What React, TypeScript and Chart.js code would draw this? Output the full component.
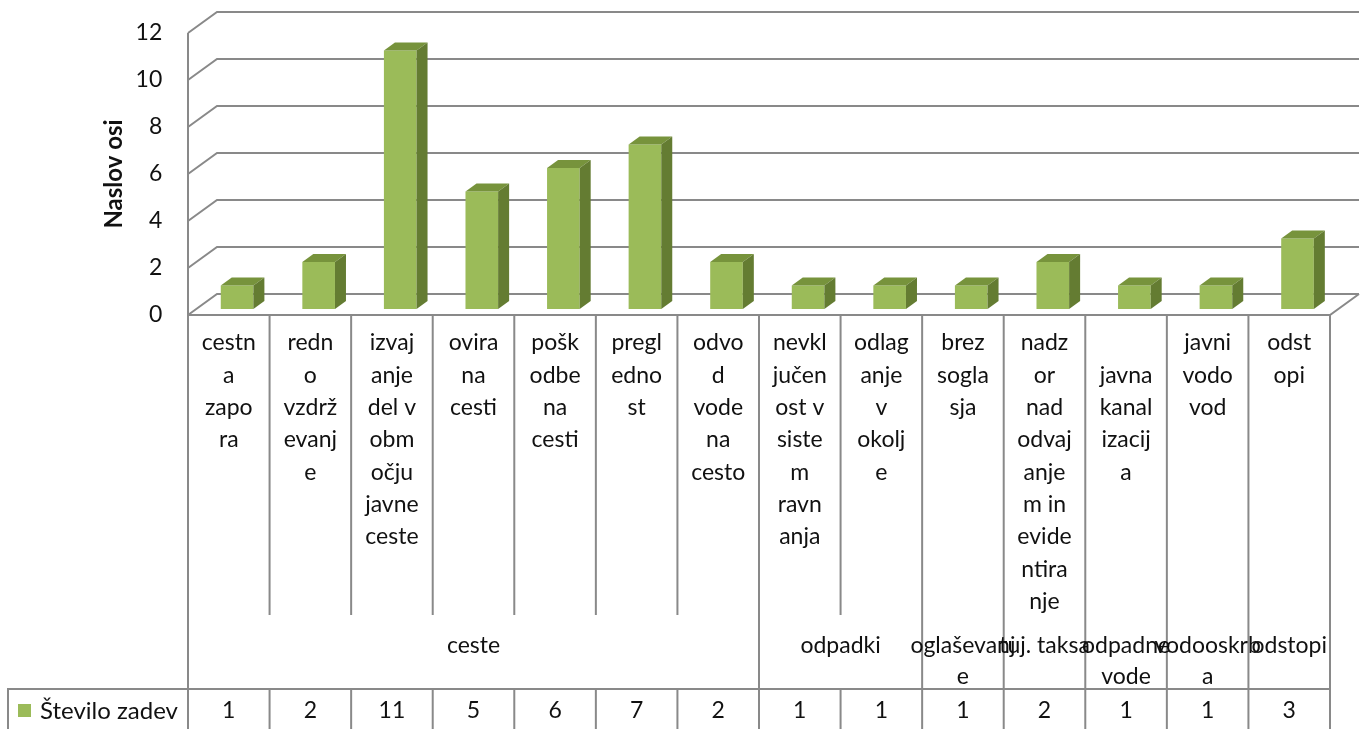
import React, { useEffect, useRef } from 'react';
import { Chart, registerables } from 'chart.js';

Chart.register(...registerables);

// ---------- data ----------
const categoryLines: string[][] = [
  ['cestn', 'a', 'zapo', 'ra'],
  ['redn', 'o', 'vzdrž', 'evanj', 'e'],
  ['izvaj', 'anje', 'del v', 'obm', 'očju', 'javne', 'ceste'],
  ['ovira', 'na', 'cesti'],
  ['pošk', 'odbe', 'na', 'cesti'],
  ['pregl', 'edno', 'st'],
  ['odvo', 'd', 'vode', 'na', 'cesto'],
  ['nevkl', 'jučen', 'ost v', 'siste', 'm', 'ravn', 'anja'],
  ['odlag', 'anje', 'v', 'okolj', 'e'],
  ['brez', 'sogla', 'sja'],
  ['nadz', 'or', 'nad', 'odvaj', 'anje', 'm in', 'evide', 'ntira', 'nje'],
  ['', 'javna', 'kanal', 'izacij', 'a'],
  ['javni', 'vodo', 'vod'],
  ['odst', 'opi'],
];
const groupLines: string[][] = [
  ['ceste'],
  ['odpadki'],
  ['oglaševanj', 'e'],
  ['tuj. taksa'],
  ['odpadne', 'vode'],
  ['vodooskrb', 'a'],
  ['odstopi'],
];
const groupSpans: number[] = [7, 2, 1, 1, 1, 1, 1];
const seriesName = 'Število zadev';
const seriesValues: number[] = [1, 2, 11, 5, 6, 7, 2, 1, 1, 1, 2, 1, 1, 3];
const yTickValues: number[] = [0, 2, 4, 6, 8, 10, 12];
const axisTitle = 'Naslov osi';

// ---------- style ----------
const W = 1366;
const H = 729;
const FONT = 'Lato, "Open Sans", sans-serif';
const TEXT = '#111111';
const GRID = '#898989';
const BAR_FRONT = '#9BBB59';
const BAR_TOP = '#77933C';
const BAR_SIDE = '#647C32';
const DEPTH_X = 29;
const DEPTH_Y = 21;
const SHIFT_X = 8.3;
const SHIFT_Y = 6;
const BAR_DX = 11;
const BAR_DY = 8;

const excel3d = {
  id: 'excel3d',
  beforeDatasetsDraw(chart: any) {
    const { ctx, chartArea: ca, scales } = chart;
    const ys = scales.y;
    const L = ca.left - SHIFT_X;
    const R = ca.right - SHIFT_X;
    const yf = (v: number) => ys.getPixelForValue(v) + SHIFT_Y;
    ctx.save();
    ctx.strokeStyle = GRID;
    ctx.lineWidth = 2;
    ys.ticks.forEach((t: any) => {
      const py = yf(t.value);
      ctx.beginPath();
      ctx.moveTo(L, py);
      ctx.lineTo(L + DEPTH_X, py - DEPTH_Y);
      ctx.lineTo(R + DEPTH_X, py - DEPTH_Y);
      ctx.stroke();
    });
    const y0 = yf(ys.min);
    ctx.beginPath();
    ctx.moveTo(L, yf(ys.max));
    ctx.lineTo(L, y0);
    ctx.lineTo(R, y0);
    ctx.lineTo(R + DEPTH_X, y0 - DEPTH_Y);
    ctx.stroke();
    ctx.restore();
  },
  afterDatasetsDraw(chart: any) {
    const { ctx } = chart;
    const meta = chart.getDatasetMeta(0);
    ctx.save();
    meta.data.forEach((el: any) => {
      const { x, y, base, width } = el.getProps(['x', 'y', 'base', 'width'], true);
      const l = x - width / 2;
      const r = x + width / 2;
      ctx.fillStyle = BAR_TOP;
      ctx.beginPath();
      ctx.moveTo(l, y);
      ctx.lineTo(l + BAR_DX, y - BAR_DY);
      ctx.lineTo(r + BAR_DX, y - BAR_DY);
      ctx.lineTo(r, y);
      ctx.closePath();
      ctx.fill();
      ctx.fillStyle = BAR_SIDE;
      ctx.beginPath();
      ctx.moveTo(r, y);
      ctx.lineTo(r + BAR_DX, y - BAR_DY);
      ctx.lineTo(r + BAR_DX, base - BAR_DY);
      ctx.lineTo(r, base);
      ctx.closePath();
      ctx.fill();
    });
    ctx.restore();
  },
  afterDraw(chart: any) {
    const { ctx, chartArea: ca, scales } = chart;
    const ys = scales.y;
    const L = ca.left - SHIFT_X;
    const R = ca.right - SHIFT_X;
    const N = categoryLines.length;
    const cw = (R - L) / N;
    const colX = (i: number) => L + i * cw;
    const top = ys.getPixelForValue(ys.min) + SHIFT_Y;
    const plotTop = ys.getPixelForValue(ys.max) + SHIFT_Y;
    const catBottom = top + 300;
    const rowTop = top + 374;
    const legendLeft = 8;

    const bounds = new Set<number>([0]);
    let acc = 0;
    groupSpans.forEach((s) => {
      acc += s;
      bounds.add(acc);
    });

    ctx.save();
    // axis title (centred on the front wall)
    ctx.save();
    ctx.translate(114, (top + plotTop) / 2);
    ctx.rotate(-Math.PI / 2);
    ctx.fillStyle = TEXT;
    ctx.font = `bold 24px ${FONT}`;
    ctx.textAlign = 'center';
    ctx.textBaseline = 'middle';
    ctx.fillText(axisTitle, 0, 0);
    ctx.restore();

    ctx.strokeStyle = GRID;
    ctx.lineWidth = 2;
    for (let i = 0; i <= N; i++) {
      const px = colX(i);
      ctx.beginPath();
      if (bounds.has(i)) {
        ctx.moveTo(px, top);
        ctx.lineTo(px, H);
      } else {
        ctx.moveTo(px, top);
        ctx.lineTo(px, catBottom);
        ctx.moveTo(px, rowTop);
        ctx.lineTo(px, H);
      }
      ctx.stroke();
    }
    ctx.beginPath();
    ctx.moveTo(legendLeft, H);
    ctx.lineTo(legendLeft, rowTop);
    ctx.lineTo(R, rowTop);
    ctx.stroke();

    ctx.fillStyle = TEXT;
    ctx.font = `23px ${FONT}`;
    ctx.textAlign = 'center';
    ctx.textBaseline = 'middle';
    categoryLines.forEach((lines, i) => {
      lines.forEach((ln, k) => {
        ctx.fillText(ln, colX(i) + cw / 2, top + 28 + k * 32.3);
      });
    });
    let start = 0;
    groupLines.forEach((lines, g) => {
      const span = groupSpans[g];
      const cx = colX(start) + (span * cw) / 2;
      lines.forEach((ln, k) => {
        ctx.fillText(ln, cx, top + 331 + k * 31);
      });
      start += span;
    });
    seriesValues.forEach((v, i) => {
      ctx.fillText(String(v), colX(i) + cw / 2, rowTop + 22);
    });
    ctx.fillStyle = BAR_FRONT;
    ctx.fillRect(18, rowTop + 15, 13, 13);
    ctx.fillStyle = TEXT;
    ctx.textAlign = 'left';
    ctx.font = `24px ${FONT}`;
    ctx.fillText(seriesName, 40, rowTop + 22);
    ctx.restore();
  },
};

export default function App() {
  const ref = useRef<HTMLCanvasElement | null>(null);
  useEffect(() => {
    if (!ref.current) return;
    const chart = new Chart(ref.current, {
      type: 'bar',
      data: {
        labels: categoryLines,
        datasets: [
          {
            label: seriesName,
            data: seriesValues,
            backgroundColor: BAR_FRONT,
            borderWidth: 0,
            barPercentage: 0.4,
            categoryPercentage: 1,
          },
        ],
      },
      options: {
        responsive: false,
        animation: false,
        events: [],
        layout: {
          padding: { left: 0, top: 27, right: W - 1338.3, bottom: H - 309 },
        },
        plugins: {
          legend: { display: false },
          tooltip: { enabled: false },
        },
        scales: {
          x: { display: false },
          y: {
            min: 0,
            max: 12,
            afterBuildTicks: (scale: any) => {
              scale.ticks = yTickValues.map((v) => ({ value: v }));
            },
            afterFit: (scale: any) => {
              scale.width = 196.3;
              scale.paddingTop = 0;
              scale.paddingBottom = 0;
            },
            grid: { display: false, drawTicks: false },
            border: { display: false },
            ticks: {
              padding: 34,
              labelOffset: SHIFT_Y,
              color: TEXT,
              font: { family: FONT, size: 23 },
            },
            title: { display: false },
          },
        },
      },
      plugins: [excel3d],
    } as any);
    return () => chart.destroy();
  }, []);
  return (
    <div style={{ position: 'absolute', left: 0, top: 0, width: W, height: H, background: '#fff' }}>
      <canvas ref={ref} width={W} height={H} style={{ display: 'block' }} />
    </div>
  );
}
